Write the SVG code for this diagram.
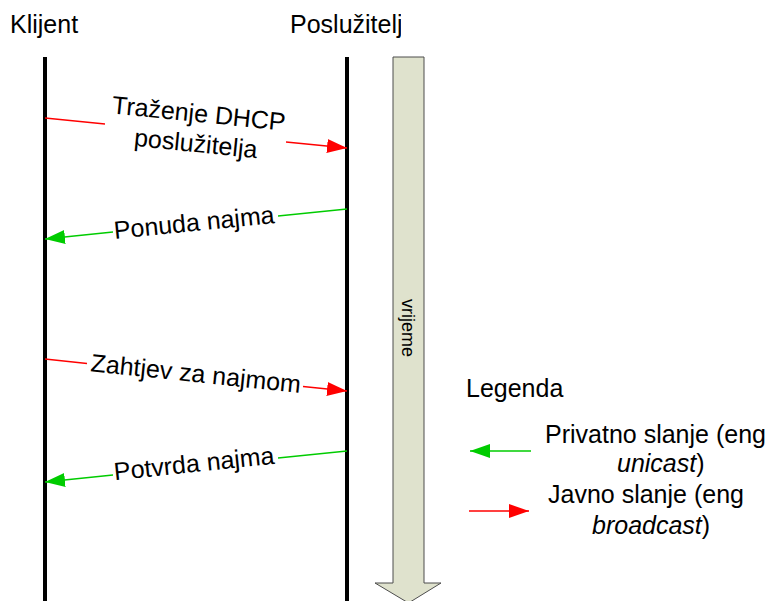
<svg xmlns="http://www.w3.org/2000/svg" width="772" height="601" viewBox="0 0 772 601">
<defs>
<style>
text{font-family:"Liberation Sans",Arial,sans-serif;fill:#000;}
.t25{font-size:25px;}
.life{stroke:#000;stroke-width:4;fill:none;}
.red{stroke:#ff0000;stroke-width:1.3;fill:none;}
.green{stroke:#00cc00;stroke-width:1.3;fill:none;}
</style>
<marker id="ar" viewBox="0 0 20 14" refX="20" refY="7" markerWidth="20" markerHeight="14" markerUnits="userSpaceOnUse" orient="auto">
<path d="M0,0 L20,7 L0,14 z" fill="#ff0000"/>
</marker>
<marker id="ag" viewBox="0 0 20 14" refX="20" refY="7" markerWidth="20" markerHeight="14" markerUnits="userSpaceOnUse" orient="auto">
<path d="M0,0 L20,7 L0,14 z" fill="#00cc00"/>
</marker>
<clipPath id="clipT"><rect x="0" y="0" width="401" height="60"/></clipPath>
</defs>
<rect width="772" height="601" fill="#fff"/>

<g id="klijent">
<text class="t25" x="10" y="33">Klijent</text>
<line class="life" x1="45" y1="57" x2="45" y2="601"/>
</g>
<g id="posluzitelj">
<text class="t25" x="290" y="33" clip-path="url(#clipT)">Poslužitelj</text>
<line class="life" x1="347" y1="57" x2="347" y2="601"/>
</g>

<g id="vrijeme">
<path d="M393,57 L424,57 L424,583 L441,583 L408.5,603 L375,583 L393,583 Z" fill="#dfe2cd" stroke="#4d4d4d" stroke-width="1"/>
<text x="408" y="328" font-size="18" text-anchor="middle" dominant-baseline="central" transform="rotate(90 408 328)">vrijeme</text>
</g>

<g id="connectors">
<line class="red" x1="45" y1="118" x2="105" y2="124"/>
<line class="red" x1="286" y1="142" x2="347" y2="148" marker-end="url(#ar)"/>
<line class="green" x1="347" y1="209" x2="278" y2="216"/>
<line class="green" x1="113" y1="232" x2="45" y2="239" marker-end="url(#ag)"/>
<line class="red" x1="45" y1="359" x2="87" y2="363.5"/>
<line class="red" x1="303" y1="386.5" x2="347" y2="391" marker-end="url(#ar)"/>
<line class="green" x1="347" y1="451" x2="278" y2="458"/>
<line class="green" x1="113" y1="475" x2="45" y2="482" marker-end="url(#ag)"/>
</g>

<g id="labels">
<text class="t25" text-anchor="middle" x="198" y="122" transform="rotate(5.7 198 122)">Traženje DHCP</text>
<text class="t25" text-anchor="middle" x="195" y="152" transform="rotate(5.7 195 152)">poslužitelja</text>
<text class="t25" text-anchor="middle" x="195" y="231" transform="rotate(-5.7 195 231)">Ponuda najma</text>
<text class="t25" text-anchor="middle" x="195" y="382" transform="rotate(5.9 195 382)">Zahtjev za najmom</text>
<text class="t25" text-anchor="middle" x="195" y="472" transform="rotate(-5.9 195 472)">Potvrda najma</text>
</g>

<g id="legenda">
<text class="t25" x="466" y="397">Legenda</text>
<line class="green" x1="531" y1="451" x2="470" y2="451" marker-end="url(#ag)"/>
<text class="t25" x="545" y="443">Privatno slanje (eng</text>
<text class="t25" x="617" y="472"><tspan font-style="italic">unicast</tspan>)</text>
<line class="red" x1="469" y1="511" x2="529" y2="511" marker-end="url(#ar)"/>
<text class="t25" x="548" y="503">Javno slanje (eng</text>
<text class="t25" x="592" y="534"><tspan font-style="italic">broadcast</tspan>)</text>
</g>
</svg>
